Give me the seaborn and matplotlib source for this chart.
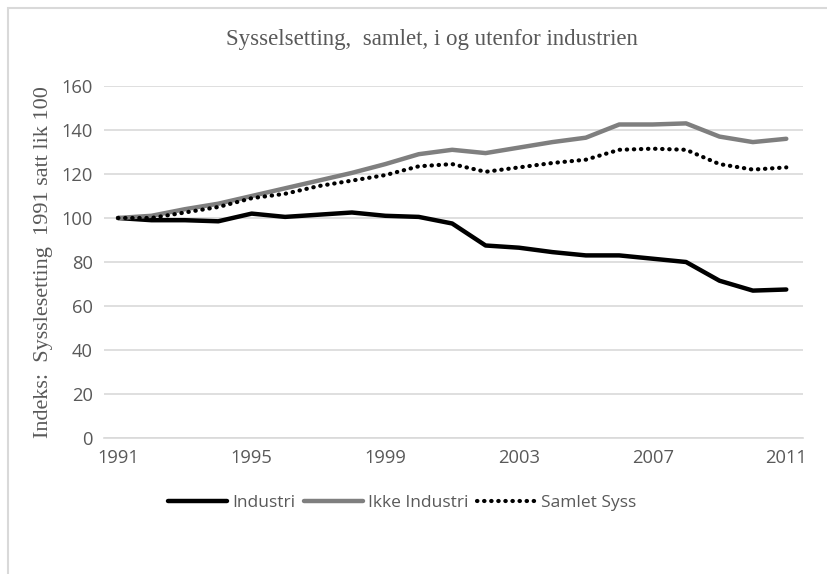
import pandas as pd
import seaborn as sns
import matplotlib.pyplot as plt
from matplotlib.patches import Rectangle

# Indeks, 1991 = 100
years = list(range(1991, 2012))
industri = [100, 99, 99, 98.5, 102, 100.5, 101.5, 102.5, 101, 100.5, 97.5,
            87.5, 86.5, 84.5, 83, 83, 81.5, 80, 71.5, 67, 67.5]
ikke_industri = [100, 101, 104, 106.5, 110, 113.5, 117, 120.5, 124.5, 129, 131,
                 129.5, 132, 134.5, 136.5, 142.5, 142.5, 143, 137, 134.5, 136]
samlet_syss = [100, 100, 102.5, 105, 109, 111, 114.5, 117, 119.5, 123.5, 124.5,
               121, 123, 125, 126.5, 131, 131.5, 131, 124.5, 122, 123]
xticks = [1991, 1995, 1999, 2003, 2007, 2011]

df = pd.DataFrame({'År': years, 'Industri': industri,
                   'Ikke Industri': ikke_industri, 'Samlet Syss': samlet_syss})

sns.set_style('white')
txt = '#595959'
grid = '#d9d9d9'

fig = plt.figure(figsize=(8.28, 5.74), dpi=100)
ax = fig.add_axes([0.1256, 0.2369, 0.9698 - 0.1256, 0.8502 - 0.2369])

# chart frame (left and top edge visible)
fig.patches.append(Rectangle((8 / 828, -0.1), 1.1, 1 - 8 / 574 + 0.1,
                             transform=fig.transFigure, fill=False,
                             edgecolor=grid, linewidth=1.5))

sns.lineplot(data=df, x='År', y='Industri', ax=ax, color='black',
             linewidth=3.2, label='Industri')
sns.lineplot(data=df, x='År', y='Ikke Industri', ax=ax, color='#7f7f7f',
             linewidth=3.2, label='Ikke Industri')
sns.lineplot(data=df, x='År', y='Samlet Syss', ax=ax, color='black',
             linewidth=3.0, linestyle=(0, (0.1, 1.6)),
             dash_capstyle='round', label='Samlet Syss')

ax.set_xlim(1990.58, 2011.5)
ax.set_ylim(0, 160)
ax.set_yticks(range(0, 161, 20))
ax.set_xticks(xticks)
ax.grid(axis='y', color=grid, linewidth=1.2)
ax.set_axisbelow(True)
for s in ['top', 'right', 'left']:
    ax.spines[s].set_visible(False)
ax.spines['bottom'].set_color(grid)
ax.spines['bottom'].set_linewidth(1.2)
ax.tick_params(length=0, labelsize=13.2, labelcolor=txt, pad=8)
for lab in ax.get_xticklabels() + ax.get_yticklabels():
    lab.set_family('Open Sans')

ax.set_xlabel('')
ax.set_ylabel('Indeks:  Sysslesetting  1991 satt lik 100', family='Liberation Serif',
              fontsize=16, color=txt, labelpad=6)
fig.text(432 / 828, 1 - 40 / 574, 'Sysselsetting,  samlet, i og utenfor industrien',
         family='Liberation Serif', fontsize=16.5, color=txt, ha='center', va='center')

leg = ax.legend(loc='center', bbox_to_anchor=(402 / 828, 1 - 503 / 574),
                bbox_transform=fig.transFigure, ncol=3, frameon=False,
                handlelength=3.4, handletextpad=0.3, columnspacing=0.5,
                prop={'family': 'Open Sans', 'size': 12.5})
for t in leg.get_texts():
    t.set_color(txt)

fig.savefig('out.png', dpi=100)
